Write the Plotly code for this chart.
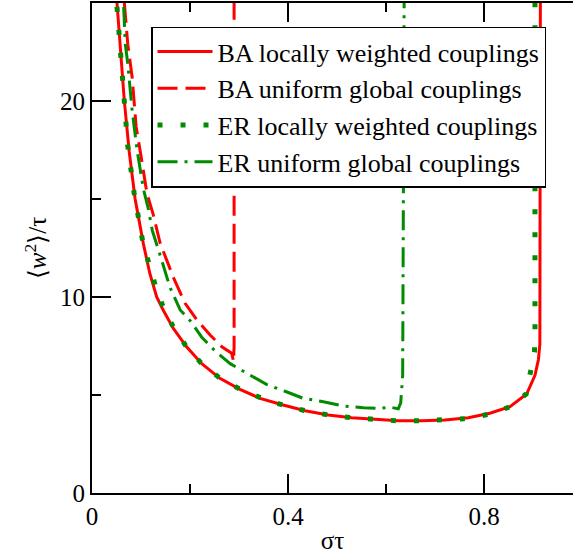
import plotly.graph_objects as go

# BA locally weighted couplings
ba_local_x = [0.051, 0.058, 0.066, 0.076, 0.088, 0.105, 0.118, 0.132, 0.146, 0.166, 0.193, 0.224, 0.261,
              0.302, 0.343, 0.39, 0.435, 0.482, 0.53, 0.578, 0.625, 0.673, 0.72, 0.768, 0.812, 0.853,
              0.887, 0.904, 0.911, 0.914, 0.915]
ba_local_y = [25, 22.5, 20.0, 17.4, 15.0, 12.7, 11.2, 10.0, 9.3, 8.4, 7.46, 6.6, 5.85,
              5.29, 4.83, 4.49, 4.2, 3.98, 3.84, 3.76, 3.69, 3.69, 3.72, 3.84, 4.07, 4.4,
              5.05, 6.0, 6.8, 7.6, 25]

# BA uniform global couplings
ba_unif_x = [0.066, 0.073, 0.082, 0.09, 0.1, 0.112, 0.125, 0.139, 0.146, 0.166, 0.19, 0.214, 0.241,
             0.265, 0.285, 0.289, 0.29, 0.29]
ba_unif_y = [25, 22.9, 21.2, 18.7, 17.2, 15.3, 14.2, 12.75, 12.3, 11.0, 9.68, 8.83, 8.06,
             7.46, 7.13, 6.7, 7.5, 25]

# ER locally weighted couplings
er_local_x = [0.051, 0.058, 0.065, 0.073, 0.086, 0.103, 0.115, 0.129, 0.144, 0.165, 0.191, 0.222, 0.259,
              0.301, 0.345, 0.389, 0.435, 0.482, 0.53, 0.578, 0.625, 0.673, 0.72, 0.767, 0.812, 0.853,
              0.886, 0.895, 0.903, 0.904, 0.904]
er_local_y = [24.8, 22.5, 20.05, 17.7, 15.3, 12.9, 11.8, 10.6, 9.57, 8.52, 7.53, 6.65, 5.9,
              5.31, 4.85, 4.49, 4.2, 3.98, 3.84, 3.73, 3.68, 3.68, 3.72, 3.8, 4.03, 4.4,
              5.05, 6.05, 7.2, 8.4, 25]

# ER uniform global couplings
er_unif_x = [0.0646, 0.068, 0.073, 0.078, 0.082, 0.092, 0.105, 0.115, 0.123, 0.142, 0.159, 0.18, 0.2,
             0.224, 0.251, 0.282, 0.319, 0.356, 0.394, 0.431, 0.472, 0.513, 0.554, 0.588, 0.608,
             0.625, 0.63, 0.634, 0.637]
er_unif_y = [24.8, 22.9, 21.9, 20.7, 19.5, 17.5, 15.5, 14.5, 13.4, 11.9, 10.5, 9.34, 8.8,
             7.95, 7.25, 6.6, 6.05, 5.54, 5.19, 4.83, 4.66, 4.44, 4.35, 4.32, 4.38,
             4.3, 4.6, 6.0, 25]

RED = "rgb(255,0,0)"
GREEN = "rgb(0,139,0)"
FONT = "Liberation Serif, Times New Roman, serif"

fig = go.Figure()
fig.add_trace(go.Scatter(x=ba_local_x, y=ba_local_y, mode="lines", name="BA locally weighted couplings",
                         line=dict(color=RED, width=3)))
fig.add_trace(go.Scatter(x=ba_unif_x, y=ba_unif_y, mode="lines", name="BA uniform global couplings",
                         line=dict(color=RED, width=3, dash="20px,8px")))
fig.add_trace(go.Scatter(x=er_local_x, y=er_local_y, mode="lines", name="ER locally weighted couplings",
                         line=dict(color=GREEN, width=5, dash="5px,18px")))
fig.add_trace(go.Scatter(x=er_unif_x, y=er_unif_y, mode="lines", name="ER uniform global couplings",
                         line=dict(color=GREEN, width=3, dash="20px,7px,3px,7px")))

axis_common = dict(
    showgrid=False, zeroline=False, showline=True, linecolor="black", linewidth=2,
    ticks="inside", ticklen=19, tickwidth=1.5, tickcolor="black",
    tickfont=dict(family=FONT, size=25, color="black"),
)

fig.update_layout(
    width=573, height=556,
    margin=dict(l=92, r=0, t=3, b=63),
    paper_bgcolor="white", plot_bgcolor="white",
    font=dict(family=FONT, size=25, color="black"),
    xaxis=dict(range=[0, 0.9816], tick0=0, dtick=0.4, mirror="ticks",
               minor=dict(dtick=0.2, ticks="inside", ticklen=9, tickwidth=1.5, tickcolor="black"),
               title=dict(text="στ", font=dict(family=FONT, size=25), standoff=2),
               **axis_common),
    yaxis=dict(range=[0, 25], tick0=0, dtick=10, mirror=False,
               minor=dict(dtick=5, ticks="inside", ticklen=9, tickwidth=1.5, tickcolor="black"),
               title=dict(text="⟨<i>w</i><sup>2</sup>⟩/τ", font=dict(family=FONT, size=25), standoff=6),
               **axis_common),
    legend=dict(x=0.1227, y=0.952, xanchor="left", yanchor="top",
                bordercolor="black", borderwidth=1.5, bgcolor="white",
                font=dict(family=FONT, size=26, color="black"),
                itemwidth=55, tracegroupgap=0),
    showlegend=True,
)

fig.write_html("out.html")
